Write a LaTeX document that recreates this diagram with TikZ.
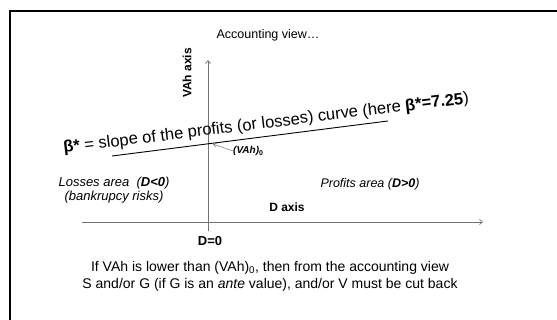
\documentclass[tikz,border=0pt]{standalone}
\usepackage{fontspec}
\setmainfont{Liberation Sans}
\usetikzlibrary{arrows.meta}
\begin{document}
\begin{tikzpicture}[x=1pt,y=-1pt,
  axis/.style={draw=black!55, line width=0.7pt, -{Straight Barb[length=3pt,width=5pt]}},
  lbl/.style={inner sep=0pt, font=\fontsize{12}{13}\selectfont},
  bigtxt/.style={inner sep=0pt, font=\fontsize{14}{17}\selectfont}]
\useasboundingbox (0,0) rectangle (557,320);
\draw[line width=2pt] (9.5,321) -- (9.5,11.5) -- (558,11.5);
\node[inner sep=0pt, font=\fontsize{12.5}{14}\selectfont] (title) at (268,35) {Accounting view…};
\coordinate (ytop) at (208,60);
\coordinate (ybot) at (208,231);
\coordinate (xl) at (82,222);
\coordinate (xr) at (483,222);
\draw[axis] (ybot) -- (ytop);
\draw[axis] (xl) -- (xr);
\node[lbl, rotate=90, font=\fontsize{12}{13}\selectfont\bfseries] (vah) at (187,73) {VAh axis};
\node[lbl, font=\fontsize{12}{13}\selectfont\bfseries] (dax) at (287,207) {D axis};
\node[lbl, font=\fontsize{13}{14}\selectfont\bfseries] (d0) at (210,241) {D=0};
\node[lbl, align=center, font=\fontsize{13}{13.5}\selectfont\itshape] (loss) at (114,190) {Losses area \ (\textbf{D<0})\\(bankrupcy risks)};
\node[lbl, font=\fontsize{12.5}{13}\selectfont\itshape] (prof) at (370,184) {Profits area (\textbf{D>0})};
\coordinate (cl) at (112,156);
\coordinate (cr) at (388,121);
\draw[line width=0.9pt] (cl) -- (cr);
\node[inner sep=0pt, anchor=base west, rotate=7, font=\fontsize{16.5}{19}\selectfont] (slope) at (64,153) {\textbf{β*} = slope of the profits (or losses) curve (here \textbf{β*=7.25})};
\node[inner sep=0pt, anchor=west, font=\fontsize{10}{11}\selectfont\bfseries\itshape] (vah0) at (233,151) {(VAh)$_{\mathbf{0}}$};
\draw[draw=black!55, line width=0.5pt, -{Straight Barb[length=3pt,width=4pt]}] (vah0.west) -- (213,144);
\node[bigtxt, align=center] (note) at (270,276) {If VAh is lower than (VAh)\textsubscript{0}, then from the accounting view\\S and/or G (if G is an \textit{ante} value), and/or V must be cut back};
\end{tikzpicture}
\end{document}
